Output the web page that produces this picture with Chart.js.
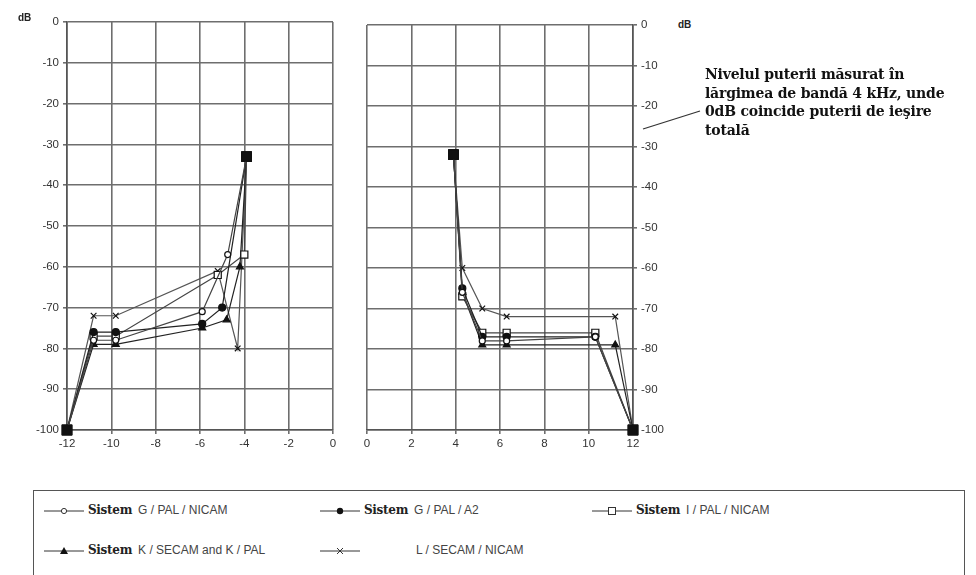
<!DOCTYPE html>
<html>
<head>
<meta charset="utf-8">
<script src="https://cdn.jsdelivr.net/npm/chart.js@4/dist/chart.umd.min.js"></script>
<style>
  body { margin: 0; background: #fff; width: 976px; height: 575px; overflow: hidden; position: relative; font-family: "Liberation Sans", Arial, sans-serif; }
  #left { position: absolute; left: 0; top: 0; width: 345px; height: 460px; }
  #right { position: absolute; left: 345px; top: 0; width: 330px; height: 460px; }
  .db { position: absolute; font: bold 10px "Liberation Sans", Arial, sans-serif; color: #222; }
  .note { position: absolute; left: 705px; top: 65px; font: bold 14px "DejaVu Serif", "Liberation Serif", serif; line-height: 18.5px; color: #111; letter-spacing: -0.2px; }
  .legend { position: absolute; left: 33px; top: 490px; width: 932px; height: 100px; border: 1.5px solid #555; box-sizing: border-box; }
  .item { position: absolute; white-space: nowrap; font-size: 12px; color: #444; }
  .item svg { vertical-align: middle; margin-right: 4px; }
  .sis { font: bold 12px "DejaVu Serif", serif; color: #222; margin-right: 6px; letter-spacing: -0.3px; }
</style>
</head>
<body>
<div id="left"><canvas id="cl"></canvas></div>
<div id="right"><canvas id="cr"></canvas></div>
<div class="db" style="left:18px;top:12px">dB</div>
<div class="db" style="left:678px;top:19px">dB</div>
<svg style="position:absolute;left:0;top:0" width="976" height="200"><line x1="643" y1="129" x2="700" y2="111" stroke="#333" stroke-width="1.3"/></svg>
<div class="note">Nivelul puterii măsurat în<br>lărgimea de bandă 4 kHz, unde<br>0dB coincide puterii de ieşire<br>totală</div>

<div class="legend">
  <div class="item" style="left:10px;top:12px"><svg width="40" height="10"><line x1="0" y1="5" x2="40" y2="5" stroke="#333"/><circle cx="20" cy="5" r="2.6" fill="#fff" stroke="#333"/></svg><span class="sis">Sistem</span>G / PAL / NICAM</div>
  <div class="item" style="left:286px;top:12px"><svg width="40" height="10"><line x1="0" y1="5" x2="40" y2="5" stroke="#333"/><circle cx="20" cy="5" r="3.2" fill="#111"/></svg><span class="sis">Sistem</span>G / PAL / A2</div>
  <div class="item" style="left:558px;top:12px"><svg width="40" height="10"><line x1="0" y1="5" x2="40" y2="5" stroke="#333"/><rect x="16.5" y="1.5" width="7" height="7" fill="#fff" stroke="#333"/></svg><span class="sis">Sistem</span>I / PAL / NICAM</div>
  <div class="item" style="left:10px;top:52px"><svg width="40" height="10"><line x1="0" y1="5" x2="40" y2="5" stroke="#333"/><polygon points="20,1 24,8 16,8" fill="#111"/></svg><span class="sis">Sistem</span>K / SECAM and K / PAL</div>
  <div class="item" style="left:286px;top:52px"><svg width="40" height="10"><line x1="0" y1="5" x2="40" y2="5" stroke="#333"/><path d="M17 2 L23 8 M23 2 L17 8" stroke="#333"/></svg><span style="margin-left:52px">L / SECAM / NICAM</span></div>
</div>

<script>
// series labels
const seriesNames = ["G / PAL / NICAM", "G / PAL / A2", "I / PAL / NICAM", "K / SECAM and K / PAL", "L / SECAM / NICAM"];

// left panel (negative offsets)
const gNicamLX = [-12, -10.8, -9.8, -5.9, -4.75, -3.9];
const gNicamLY = [-100, -78, -78, -71, -57, -33];
const gA2LX = [-12, -10.8, -9.8, -5.9, -5.0, -3.9];
const gA2LY = [-100, -76, -76, -74, -70, -33];
const iNicamLX = [-12, -10.8, -9.8, -5.2, -4.0, -3.9];
const iNicamLY = [-100, -77, -77, -62, -57, -33];
const kLX = [-12, -10.8, -9.8, -5.9, -4.8, -4.2, -3.9];
const kLY = [-100, -79, -79, -75, -73, -60, -33];
const lLX = [-12, -10.8, -9.8, -5.2, -4.3, -3.9];
const lLY = [-100, -72, -72, -61, -80, -33];

// right panel (positive offsets)
const gNicamRX = [3.9, 4.3, 5.2, 6.3, 10.3, 12];
const gNicamRY = [-32, -66, -78, -78, -77, -100];
const gA2RX = [3.9, 4.3, 5.2, 6.3, 10.3, 12];
const gA2RY = [-32, -65, -77, -77, -77, -100];
const iNicamRX = [3.9, 4.3, 5.2, 6.3, 10.3, 12];
const iNicamRY = [-32, -67, -76, -76, -76, -100];
const kRX = [3.9, 4.3, 5.2, 6.3, 11.2, 12];
const kRY = [-32, -66, -79, -79, -79, -100];
const lRX = [3.9, 4.3, 5.2, 6.3, 11.2, 12];
const lRY = [-32, -60, -70, -72, -72, -100];

const yTicks = [0, -10, -20, -30, -40, -50, -60, -70, -80, -90, -100];

const styles = [
  { pt: "circle", fill: "#fff", r: 3, line: "#444" },
  { pt: "circle", fill: "#111", r: 3.5, line: "#222" },
  { pt: "rect", fill: "#fff", r: 5, line: "#444" },
  { pt: "triangle", fill: "#111", r: 4, line: "#222" },
  { pt: "crossRot", fill: "#fff", r: 4, line: "#555" }
];

function pts(xs, ys) {
  return xs.map((x, i) => ({ x: x, y: ys[i] }));
}

function makeSets(list) {
  return list.map((d, k) => {
    const s = styles[k];
    const endPt = ctx => ctx.dataIndex === 0 || ctx.dataIndex === ctx.dataset.data.length - 1;
    return {
      label: seriesNames[k],
      data: pts(d[0], d[1]),
      showLine: true,
      clip: false,
      borderColor: s.line,
      borderWidth: 1.2,
      pointStyle: ctx => endPt(ctx) ? "rect" : s.pt,
      pointRadius: ctx => endPt(ctx) ? 6.5 : s.r,
      pointBackgroundColor: ctx => endPt(ctx) ? "#111" : s.fill,
      pointBorderColor: "#111",
      pointBorderWidth: 1.2,
      tension: 0
    };
  });
}

const gridOpt = { color: "#6e6e6e", lineWidth: 1.6, tickLength: 4, tickColor: "#6e6e6e" };
const tickFont = { family: "Liberation Sans", size: 11.5 };

function yScale(pos, w) {
  return {
    type: "linear", position: pos, min: -100, max: 0,
    afterBuildTicks: s => { s.ticks = yTicks.map(v => ({ value: v })); },
    ticks: { font: tickFont, color: "#333", padding: 4 },
    grid: gridOpt,
    border: { color: "#555", width: 1.6 },
    afterFit: s => { s.width = w; }
  };
}

function xScale(min, max) {
  return {
    type: "linear", min: min, max: max,
    ticks: { stepSize: 2, font: tickFont, color: "#333", padding: 3 },
    grid: gridOpt,
    border: { color: "#555", width: 1.6 },
    afterFit: s => { s.height = 30; }
  };
}

const common = {
  responsive: true,
  maintainAspectRatio: false,
  animation: false,
  plugins: { legend: { display: false }, tooltip: { enabled: false } }
};

new Chart(document.getElementById("cl"), {
  type: "scatter",
  data: { datasets: makeSets([[gNicamLX, gNicamLY], [gA2LX, gA2LY], [iNicamLX, iNicamLY], [kLX, kLY], [lLX, lLY]]) },
  options: Object.assign({}, common, {
    layout: { padding: { left: 0, right: 12, top: 22, bottom: 0 } },
    scales: { x: xScale(-12, 0), y: yScale("left", 67) }
  })
});

new Chart(document.getElementById("cr"), {
  type: "scatter",
  data: { datasets: makeSets([[gNicamRX, gNicamRY], [gA2RX, gA2RY], [iNicamRX, iNicamRY], [kRX, kRY], [lRX, lRY]]) },
  options: Object.assign({}, common, {
    layout: { padding: { left: 22, right: 0, top: 25, bottom: 0 } },
    scales: { x: xScale(0, 12), y: yScale("right", 42) }
  })
});
</script>
</body>
</html>
